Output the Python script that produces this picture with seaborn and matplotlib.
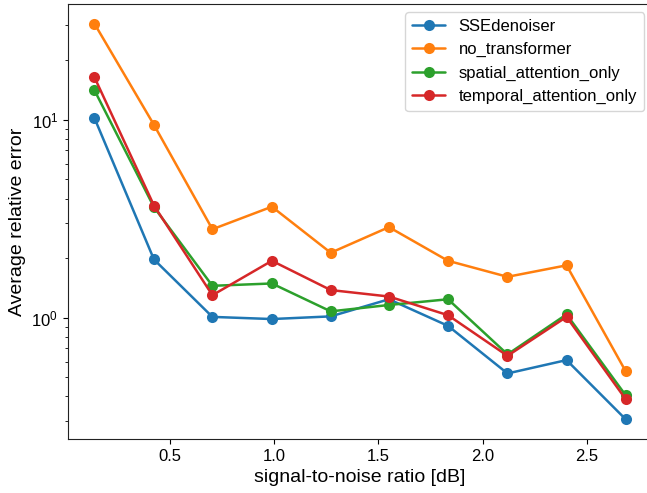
import pandas as pd
import matplotlib.pyplot as plt
import seaborn as sns

snr_db = [0.14, 0.425, 0.705, 0.99, 1.272, 1.551, 1.834, 2.119, 2.402, 2.685]
sse_denoiser = [10.2, 1.97, 1.01, 0.985, 1.016, 1.24, 0.91, 0.523, 0.611, 0.307]
no_transformer = [30.6, 9.43, 2.80, 3.64, 2.13, 2.87, 1.94, 1.61, 1.84, 0.537]
spatial_only = [14.1, 3.62, 1.45, 1.49, 1.077, 1.16, 1.24, 0.653, 1.04, 0.406]
temporal_only = [16.4, 3.69, 1.30, 1.94, 1.38, 1.28, 1.03, 0.642, 1.01, 0.388]

series = {
    "SSEdenoiser": sse_denoiser,
    "no_transformer": no_transformer,
    "spatial_attention_only": spatial_only,
    "temporal_attention_only": temporal_only,
}

df = pd.concat(
    [pd.DataFrame({"snr": snr_db, "err": vals, "model": name}) for name, vals in series.items()],
    ignore_index=True,
)

sns.set_style("ticks")
plt.rcParams["font.family"] = ["Liberation Sans", "DejaVu Sans"]
plt.rcParams["axes.edgecolor"] = "#222222"
plt.rcParams["text.color"] = "black"
plt.rcParams["axes.labelcolor"] = "black"
plt.rcParams["xtick.color"] = "black"
plt.rcParams["ytick.color"] = "black"

fig = plt.figure(figsize=(6.47, 4.93), dpi=100)
ax = fig.add_axes([0.105, 0.1095, 0.903, 0.8825])

sns.lineplot(data=df, x="snr", y="err", hue="model", marker="o", markersize=8,
             markeredgewidth=0, linewidth=1.8, palette="tab10", ax=ax)
ax.set_yscale("log")
ax.set_xlabel("signal-to-noise ratio [dB]", fontsize=14)
ax.set_ylabel("Average relative error", fontsize=14)
ax.tick_params(labelsize=12)
ax.legend(title=None, fontsize=12, loc="upper right")

plt.savefig("out.png", dpi=100)
plt.close()
